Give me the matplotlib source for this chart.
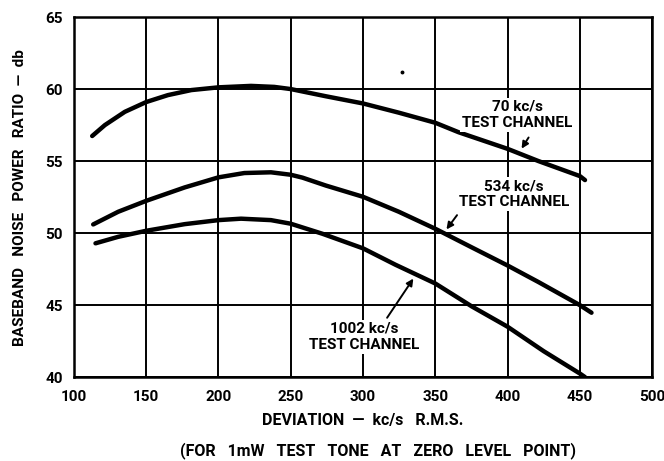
import matplotlib
matplotlib.use('Agg')
import matplotlib.pyplot as plt

plt.rcParams['font.family'] = ['Roboto', 'DejaVu Sans']
plt.rcParams['font.weight'] = 'bold'
plt.rcParams['axes.labelweight'] = 'bold'

# baseband noise power ratio (db) against deviation (kc/s r.m.s.)
dev_70 = [112.6, 121.4, 135.2, 150, 165, 181.2, 200, 222.5, 238.6, 250, 274.3, 300,
          324.8, 350, 366.2, 400, 421.4, 450, 453.6]
npr_70 = [56.74, 57.5, 58.42, 59.1, 59.58, 59.93, 60.12, 60.22, 60.15, 60.0, 59.5, 59.0,
          58.36, 57.66, 57.0, 55.85, 55.0, 53.96, 53.68]

dev_534 = [113.3, 130.6, 150, 176.6, 200, 217.9, 236.3, 250, 258.1, 274.3, 300,
           324.8, 350, 375.4, 400, 421.4, 450, 458.1]
npr_534 = [50.6, 51.48, 52.24, 53.17, 53.87, 54.17, 54.22, 54.05, 53.85, 53.3, 52.52,
           51.48, 50.3, 49.0, 47.75, 46.6, 45.0, 44.47]

dev_1002 = [114.9, 130.6, 150, 176.6, 200, 215.6, 236.3, 250, 272, 300, 322.5,
            350, 375.4, 400, 425, 450, 453.6]
npr_1002 = [49.29, 49.74, 50.16, 50.62, 50.9, 51.0, 50.9, 50.65, 49.95, 48.94, 47.8,
            46.5, 44.9, 43.5, 41.8, 40.25, 40.0]

x_ticks = [100, 150, 200, 250, 300, 350, 400, 450, 500]
y_ticks = [40, 45, 50, 55, 60, 65]

fig = plt.figure(figsize=(6.64, 4.61), dpi=100)
ax = fig.add_axes([0.1114, 0.182, 0.8706, 0.781])

for x, y in [(dev_70, npr_70), (dev_534, npr_534), (dev_1002, npr_1002)]:
    ax.plot(x, y, color='black', lw=3.2, solid_capstyle='round',
            solid_joinstyle='round', zorder=3)

ax.set_xlim(100, 500)
ax.set_ylim(40, 65)
ax.set_xticks(x_ticks)
ax.set_yticks(y_ticks)
ax.grid(True, color='black', lw=1.4)
ax.set_axisbelow(True)
for s in ax.spines.values():
    s.set_linewidth(1.8)
ax.tick_params(length=0, labelsize=11, pad=8)
ax.tick_params(axis='x', pad=9)

box = dict(facecolor='white', edgecolor='none', pad=1.5)
arrow = dict(arrowstyle='-|>', color='black', lw=1.4, mutation_scale=10)

# curve labels with arrows
ax.text(407, 58.2, '70 kc/s\nTEST CHANNEL', ha='center', va='center',
        fontsize=11, linespacing=1.2, bbox=box, zorder=4)
ax.annotate('', xy=(408.7, 55.7), xytext=(415.6, 56.8), arrowprops=arrow, zorder=4)

ax.text(404.5, 52.7, '534 kc/s\nTEST CHANNEL', ha='center', va='center',
        fontsize=11, linespacing=1.2, bbox=box, zorder=4)
ax.annotate('', xy=(356.6, 50.1), xytext=(366.2, 51.4), arrowprops=arrow, zorder=4)

ax.text(300.7, 42.8, '1002 kc/s\nTEST CHANNEL', ha='center', va='center',
        fontsize=11, linespacing=1.2, bbox=box, zorder=4)
ax.annotate('', xy=(335.9, 47.0), xytext=(315.6, 43.96), arrowprops=arrow, zorder=4)

ax.plot([327], [61.2], 'o', color='black', ms=1.8)

ax.set_ylabel('BASEBAND   NOISE   POWER   RATIO  —  db', fontsize=11, labelpad=13)
ax.set_xlabel('DEVIATION  —  kc/s   R.M.S.', fontsize=11.5, labelpad=7)
fig.text(0.57, 0.022, '(FOR   1mW   TEST   TONE   AT   ZERO   LEVEL   POINT)',
         ha='center', va='center', fontsize=11.5)

fig.savefig('out.png', dpi=100)
